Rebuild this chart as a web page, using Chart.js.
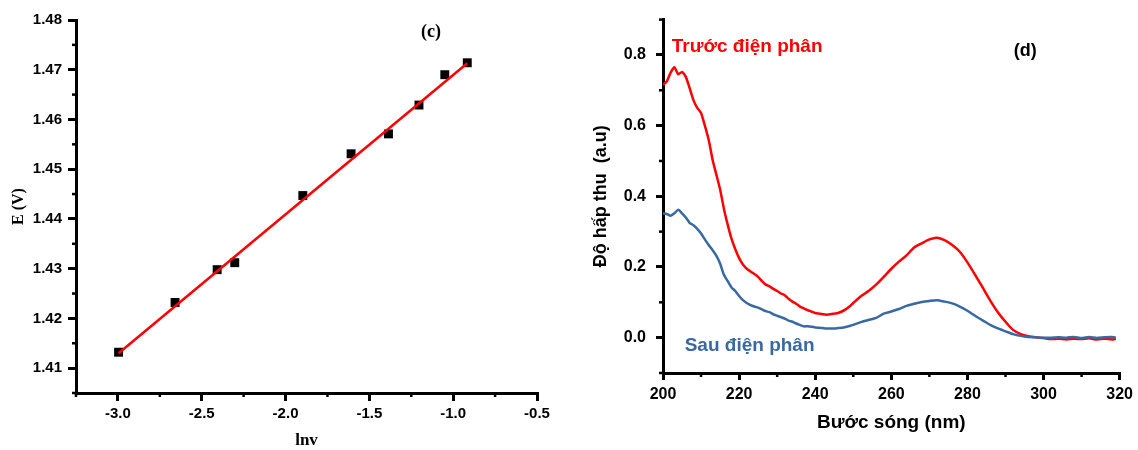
<!DOCTYPE html>
<html><head><meta charset="utf-8">
<script src="https://cdn.jsdelivr.net/npm/chart.js@4.4.0/dist/chart.umd.min.js"></script>
<style>
html,body{margin:0;padding:0;background:#fff;}
#wrap{position:relative;width:1138px;height:450px;background:#fff;}
canvas{position:absolute;top:0;}
#c1{left:0;}
#c2{left:560px;}
</style></head><body>
<div id="wrap">
<canvas id="c1" width="560" height="450"></canvas>
<canvas id="c2" width="578" height="450"></canvas>
</div>
<script>
// ---------- Panel (c) data ----------
const lnv = [-2.996, -2.659, -2.408, -2.303, -1.897, -1.609, -1.386, -1.204, -1.050, -0.916];
const potentialE = [1.4132, 1.4232, 1.4298, 1.4312, 1.4447, 1.4531, 1.4571, 1.4629, 1.4690, 1.4714];
const fitLnv = [-2.996, -0.916];
const fitE = [1.4130, 1.4713];
const cTicksX = [-3.0, -2.5, -2.0, -1.5, -1.0, -0.5];
const cTicksY = [1.41, 1.42, 1.43, 1.44, 1.45, 1.46, 1.47, 1.48];
const cMinorX = [-3.25, -2.75, -2.25, -1.75, -1.25, -0.75];
const cMinorY = [1.405, 1.415, 1.425, 1.435, 1.445, 1.455, 1.465, 1.475];

// ---------- Panel (d) data ----------
const wavelength = [
  200,201,202,203,204,205,206,207,208,209,
  210,211,212,213,214,215,216,217,218,219,
  220,221,222,223,224,225,226,227,228,229,
  230,231,232,233,234,235,236,237,238,239,
  240,241,242,243,244,245,246,247,248,249,250,
  252,254,256,258,260,262,264,266,268,270,
  272,274,276,278,280,282,284,286,288,290,
  292,294,296,298,300,302,304,306,308,310,
  312,314,316,318,319];
const absBefore = [
  0.715,0.725,0.750,0.765,0.745,0.752,0.738,0.706,0.672,0.650,
  0.636,0.600,0.560,0.505,0.462,0.420,0.365,0.320,0.280,0.250,
  0.225,0.207,0.195,0.187,0.180,0.172,0.160,0.150,0.145,0.138,
  0.132,0.125,0.120,0.110,0.102,0.096,0.088,0.083,0.078,0.074,
  0.070,0.068,0.066,0.065,0.066,0.068,0.070,0.074,0.080,0.088,0.098,
  0.117,0.132,0.150,0.172,0.195,0.215,0.233,0.255,0.267,0.278,
  0.283,0.276,0.262,0.243,0.213,0.178,0.142,0.105,0.072,0.045,
  0.022,0.010,0.004,0.001,-0.001,-0.004,-0.003,-0.005,-0.003,-0.004,
  -0.002,-0.005,-0.003,-0.005,-0.003];
const absAfter = [
  0.352,0.350,0.345,0.352,0.362,0.352,0.340,0.325,0.318,0.308,
  0.295,0.278,0.262,0.248,0.232,0.210,0.178,0.160,0.142,0.132,
  0.118,0.106,0.098,0.092,0.088,0.085,0.080,0.075,0.072,0.066,
  0.062,0.058,0.054,0.048,0.045,0.040,0.036,0.032,0.032,0.031,
  0.029,0.028,0.027,0.026,0.026,0.026,0.027,0.028,0.030,0.033,0.036,
  0.044,0.050,0.056,0.068,0.074,0.081,0.090,0.096,0.101,0.104,
  0.106,0.102,0.097,0.088,0.076,0.062,0.049,0.036,0.026,0.018,
  0.010,0.005,0.002,0.001,0.000,0.000,0.001,0.000,0.002,-0.001,
  0.002,-0.001,0.001,0.002,0.000];
const dTicksX = [200, 220, 240, 260, 280, 300, 320];
const dTicksY = [0.0, 0.2, 0.4, 0.6, 0.8];
const dMinorX = [210, 230, 250, 270, 290, 310];
const dMinorY = [-0.1, 0.1, 0.3, 0.5, 0.7, 0.9];

const SANS = "'Liberation Sans', Arial, sans-serif";
const SERIF = "'Liberation Serif', 'Times New Roman', serif";
const RED = '#ff0000';
const BLUE = '#3869a3';

// minor ticks + annotation text plugin
const extras = {
  id: 'extras',
  afterDraw(chart, args, opts) {
    const ctx = chart.ctx;
    const xs = chart.scales.x, ys = chart.scales.y;
    const area = chart.chartArea;
    ctx.save();
    ctx.strokeStyle = '#000';
    ctx.lineWidth = opts.minorWidth;
    ctx.lineCap = 'butt';
    (opts.minorX || []).forEach(v => {
      const px = xs.getPixelForValue(v);
      ctx.beginPath(); ctx.moveTo(px, area.bottom); ctx.lineTo(px, area.bottom + opts.minorLen); ctx.stroke();
    });
    (opts.minorY || []).forEach(v => {
      const py = ys.getPixelForValue(v);
      ctx.beginPath(); ctx.moveTo(area.left, py); ctx.lineTo(area.left - opts.minorLen, py); ctx.stroke();
    });
    (opts.labels || []).forEach(l => {
      ctx.font = l.font;
      ctx.fillStyle = l.color;
      ctx.textAlign = l.align;
      ctx.textBaseline = 'middle';
      ctx.fillText(l.text, xs.getPixelForValue(l.x), ys.getPixelForValue(l.y));
    });
    ctx.restore();
  }
};

function fixTicks(values) {
  return function (scale) { scale.ticks = values.map(v => ({ value: v })); };
}

// ---------- Chart (c) ----------
new Chart(document.getElementById('c1'), {
  type: 'scatter',
  data: {
    datasets: [
      {
        type: 'line',
        data: fitLnv.map((x, i) => ({ x, y: fitE[i] })),
        borderColor: RED, borderWidth: 2.5, pointRadius: 0, fill: false, order: 0
      },
      {
        data: lnv.map((x, i) => ({ x, y: potentialE[i] })),
        pointStyle: 'rect', pointRadius: 6.3, backgroundColor: '#000', borderColor: '#000',
        borderWidth: 0, order: 1
      }
    ]
  },
  options: {
    responsive: false, animation: false, events: [],
    layout: { padding: { left: 0, top: 20, right: 23, bottom: 0 } },
    plugins: {
      legend: { display: false }, tooltip: { enabled: false },
      extras: {
        minorX: cMinorX, minorY: cMinorY, minorLen: 4, minorWidth: 2.5,
        labels: [{ text: '(c)', x: -1.132, y: 1.4776, font: 'bold 18px ' + SERIF, color: '#000', align: 'center' }]
      }
    },
    scales: {
      x: {
        type: 'linear', min: -3.25, max: -0.5,
        afterBuildTicks: fixTicks(cTicksX),
        afterFit: s => { s.height = 57; },
        border: { display: true, color: '#000', width: 3 },
        grid: { drawOnChartArea: false, drawTicks: true, tickLength: 8, tickWidth: 3, tickColor: '#000', lineWidth: 3, color: '#000' },
        ticks: { color: '#000', padding: 4, maxRotation: 0, font: { family: SANS, size: 15, weight: 'bold' }, callback: v => Number(v).toFixed(1) },
        title: { display: true, text: 'lnv', color: '#000', font: { family: SERIF, size: 17, weight: 'bold' }, padding: { top: 0, bottom: -1 } }
      },
      y: {
        type: 'linear', min: 1.405, max: 1.48,
        afterBuildTicks: fixTicks(cTicksY),
        afterFit: s => { s.width = 76; },
        border: { display: true, color: '#000', width: 3 },
        grid: { drawOnChartArea: false, drawTicks: true, tickLength: 8, tickWidth: 3, tickColor: '#000', lineWidth: 3, color: '#000' },
        ticks: { color: '#000', padding: 6, font: { family: SANS, size: 15, weight: 'bold' }, callback: v => Number(v).toFixed(2) },
        title: { display: true, text: 'E (V)', color: '#000', font: { family: SERIF, size: 16, weight: 'bold' }, padding: { top: 9, bottom: 0 } }
      }
    }
  },
  plugins: [extras]
});

// ---------- Chart (d) ----------
new Chart(document.getElementById('c2'), {
  type: 'line',
  data: {
    datasets: [
      {
        data: wavelength.map((x, i) => ({ x, y: absAfter[i] })),
        borderColor: BLUE, borderWidth: 2.5, pointRadius: 0, fill: false, tension: 0.2, order: 0
      },
      {
        data: wavelength.map((x, i) => ({ x, y: absBefore[i] })),
        borderColor: RED, borderWidth: 2.5, pointRadius: 0, fill: false, tension: 0.2, order: 1
      }
    ]
  },
  options: {
    responsive: false, animation: false, events: [],
    layout: { padding: { left: 0, top: 18, right: 15, bottom: 0 } },
    plugins: {
      legend: { display: false }, tooltip: { enabled: false },
      extras: {
        minorX: dMinorX, minorY: dMinorY, minorLen: 4, minorWidth: 2.5,
        labels: [
          { text: 'Trước điện phân', x: 202.3, y: 0.822, font: 'bold 19px ' + SANS, color: RED, align: 'left' },
          { text: 'Sau điện phân', x: 205.7, y: -0.023, font: 'bold 19px ' + SANS, color: BLUE, align: 'left' },
          { text: '(d)', x: 295.2, y: 0.811, font: 'bold 18px ' + SANS, color: '#000', align: 'center' }
        ]
      }
    },
    scales: {
      x: {
        type: 'linear', min: 200, max: 320,
        afterBuildTicks: fixTicks(dTicksX),
        afterFit: s => { s.height = 77; },
        border: { display: true, color: '#000', width: 3 },
        grid: { drawOnChartArea: false, drawTicks: true, tickLength: 7, tickWidth: 3, tickColor: '#000', lineWidth: 3, color: '#000' },
        ticks: { color: '#000', padding: 5, maxRotation: 0, font: { family: SANS, size: 16, weight: 'bold' }, callback: v => String(v) },
        title: { display: true, text: 'Bước sóng (nm)', color: '#000', font: { family: SANS, size: 19, weight: 'bold' }, padding: { top: 0, bottom: 16 } }
      },
      y: {
        type: 'linear', min: -0.1, max: 0.9,
        afterBuildTicks: fixTicks(dTicksY),
        afterFit: s => { s.width = 103; },
        border: { display: true, color: '#000', width: 3 },
        grid: { drawOnChartArea: false, drawTicks: true, tickLength: 7, tickWidth: 3, tickColor: '#000', lineWidth: 3, color: '#000' },
        ticks: { color: '#000', padding: 10, font: { family: SANS, size: 16, weight: 'bold' }, callback: v => Number(v).toFixed(1) },
        title: { display: true, text: 'Độ hấp thu  (a.u)', color: '#000', font: { family: SANS, size: 18, weight: 'bold' }, padding: { top: 30, bottom: 0 } }
      }
    }
  },
  plugins: [extras]
});
</script>
</body></html>
